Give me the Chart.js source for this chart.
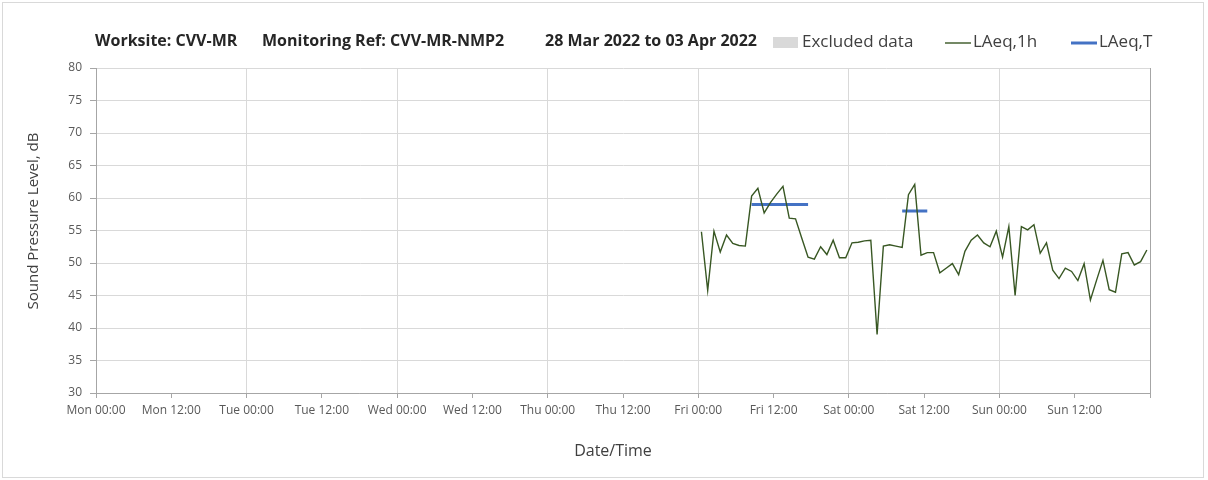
<!DOCTYPE html>
<html><head><meta charset="utf-8">
<script src="https://cdn.jsdelivr.net/npm/chart.js@4/dist/chart.umd.min.js"></script>
<style>
html,body{margin:0;padding:0;background:#fff;}
#wrap{position:relative;width:1208px;height:480px;}
#frame{position:absolute;left:2px;top:2px;width:1202px;height:476px;border:1px solid #d9d9d9;box-sizing:border-box;pointer-events:none}
canvas{display:block}
</style></head><body>
<div id="wrap"><canvas id="c" width="1208" height="480"></canvas><div id="frame"></div></div>
<script>
// ---- data ----
const titleParts = ['Worksite: CVV-MR', 'Monitoring Ref: CVV-MR-NMP2', '28 Mar 2022 to 03 Apr 2022'];
const xAxisTitle = 'Date/Time';
const yAxisTitle = 'Sound Pressure Level, dB';
const tickLabels = ['Mon 00:00','Mon 12:00','Tue 00:00','Tue 12:00','Wed 00:00','Wed 12:00','Thu 00:00','Thu 12:00','Fri 00:00','Fri 12:00','Sat 00:00','Sat 12:00','Sun 00:00','Sun 12:00',''];
// hourly LAeq,1h values from Fri 00:00 to Sun 23:00 (plotted at hour midpoints, hours since Mon 00:00)
const firstHourMid = 96.5;
const laeq1h = [
  54.8, 45.8, 54.9, 51.7, 54.3, 53.0, 52.7, 52.6, 60.3, 61.5, 57.7, 59.3,
  60.6, 61.8, 56.9, 56.8, 53.8, 50.9, 50.6, 52.5, 51.3, 53.5, 50.8, 50.8,
  53.1, 53.2, 53.4, 53.5, 39.0, 52.6, 52.8, 52.6, 52.4, 60.5, 62.1, 51.2,
  51.6, 51.6, 48.5, 49.2, 49.9, 48.2, 51.8, 53.5, 54.3, 53.1, 52.5, 54.9,
  50.9, 55.6, 45.0, 55.6, 55.1, 55.9, 51.5, 53.1, 48.9, 47.6, 49.2, 48.7,
  47.3, 49.9, 44.3, 47.4, 50.4, 45.9, 45.5, 51.4, 51.6, 49.7, 50.2, 52.0
];
// LAeq,T periods: start/end (hours since Mon 00:00, at hour midpoints) and level
const periodStart = [104.5, 128.5];
const periodEnd   = [113.5, 132.5];
const periodLevel = [59.0, 58.0];
const excludedData = [];

const lineData = laeq1h.map((v, i) => ({x: firstHourMid + i, y: v}));
const periodData = [];
periodStart.forEach((s, i) => {
  if (i > 0) periodData.push({x: (periodEnd[i-1] + s) / 2, y: null});
  periodData.push({x: s, y: periodLevel[i]}, {x: periodEnd[i], y: periodLevel[i]});
});

const FONT = 'Open Sans';
const headerPlugin = {
  id: 'header',
  afterDraw(chart) {
    const ctx = chart.ctx;
    ctx.save();
    ctx.fillStyle = '#262626';
    ctx.font = 'bold 16px "' + FONT + '"';
    ctx.textBaseline = 'middle';
    const tx = [95, 262, 545];
    titleParts.forEach((t, i) => ctx.fillText(t, tx[i], 41));
    // legend
    const lx = [773, 945, 1071];
    ctx.font = '17px "' + FONT + '"';
    chart.data.datasets.forEach((ds, i) => {
      const x = lx[i];
      if (ds.type === 'bar') {
        ctx.fillStyle = ds.backgroundColor;
        ctx.fillRect(x, 37, 25, 11);
      } else {
        ctx.strokeStyle = ds.borderColor;
        ctx.lineWidth = ds.legendWidth;
        ctx.beginPath(); ctx.moveTo(x, 43); ctx.lineTo(x + 26, 43); ctx.stroke();
      }
      ctx.fillStyle = '#404040';
      ctx.fillText(ds.label, x + (ds.type === 'bar' ? 29 : 28), 42);
    });
    // axis titles
    ctx.font = '16px "' + FONT + '"';
    ctx.textAlign = 'center';
    ctx.fillText(xAxisTitle, 613, 451);
    ctx.translate(34, 221);
    ctx.rotate(-Math.PI / 2);
    ctx.font = '15px "' + FONT + '"';
    ctx.fillText(yAxisTitle, 0, 0);
    ctx.restore();
  }
};

new Chart(document.getElementById('c'), {
  type: 'line',
  data: {
    datasets: [
      {type: 'bar', label: 'Excluded data', data: excludedData, backgroundColor: '#d9d9d9'},
      {type: 'line', label: 'LAeq,1h', data: lineData, borderColor: '#385723', borderWidth: 1.4, legendWidth: 1.4, pointRadius: 0, tension: 0},
      {type: 'line', label: 'LAeq,T', data: periodData, borderColor: '#4472C4', borderWidth: 3, legendWidth: 3, pointRadius: 0, spanGaps: false, borderCapStyle: 'butt'}
    ]
  },
  options: {
    responsive: false,
    animation: false,
    layout: {padding: {left: 14, right: 58, top: 68, bottom: 18}},
    plugins: {legend: {display: false}, title: {display: false}, tooltip: {enabled: false}},
    scales: {
      x: {
        type: 'linear', min: 0, max: 168, offset: false,
        ticks: {stepSize: 12, autoSkip: false, maxRotation: 0, color: '#595959',
                font: {family: FONT, size: 12}, padding: 5,
                callback: (v) => tickLabels[Math.round(v / 12)]},
        grid: {
          offset: false,
          color: (c) => {
            const v = c.tick ? c.tick.value : -1;
            if (v === 168) return '#a6a6a6';
            return v % 24 === 0 ? '#d9d9d9' : 'rgba(0,0,0,0)';
          },
          tickColor: '#a6a6a6', tickLength: 5, lineWidth: 1
        },
        border: {color: '#a6a6a6'},
        afterFit: (s) => { s.height = 69; }
      },
      y: {
        min: 30, max: 80,
        ticks: {stepSize: 5, color: '#595959', font: {family: FONT, size: 12}, padding: 8},
        grid: {color: '#d9d9d9', tickColor: '#a6a6a6', tickLength: 6, offset: false},
        border: {color: '#a6a6a6'},
        afterFit: (s) => { s.width = 82; }
      }
    }
  },
  plugins: [headerPlugin]
});
</script>
</body></html>
